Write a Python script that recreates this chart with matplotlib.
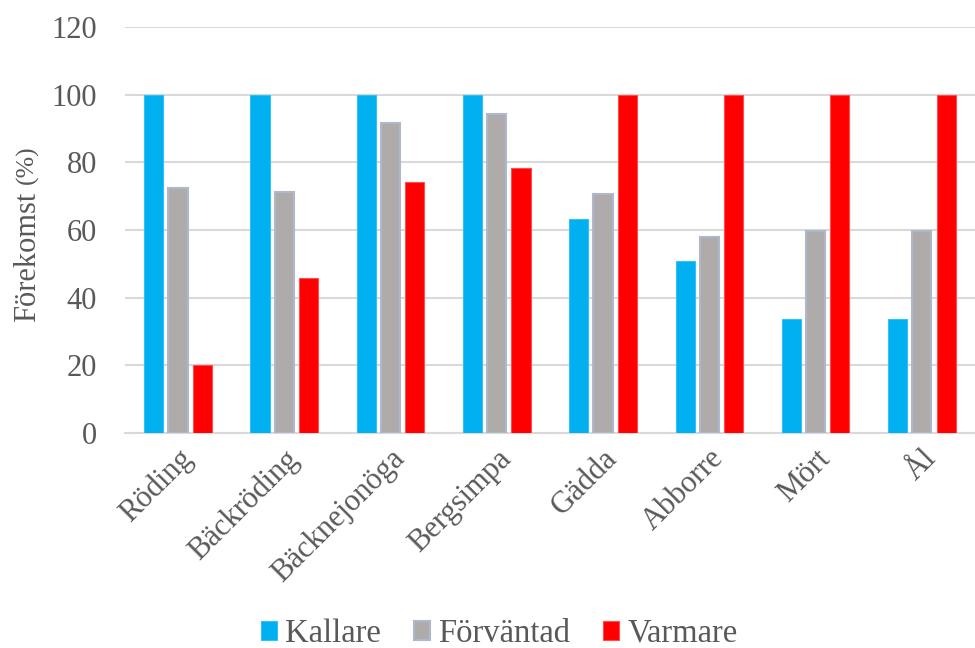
import matplotlib
matplotlib.use("Agg")
import matplotlib.pyplot as plt
import numpy as np

plt.rcParams['font.family'] = ['Liberation Serif', 'DejaVu Serif']

arter = ['Röding', 'Bäckröding', 'Bäcknejonöga', 'Bergsimpa',
         'Gädda', 'Abborre', 'Mört', 'Ål']
kallare = [100, 100, 100, 100, 63.3, 50.9, 33.8, 33.8]
forvantad = [72.3, 71.2, 91.7, 94.3, 70.7, 58.0, 59.8, 59.8]
varmare = [20.0, 45.9, 74.2, 78.3, 100, 100, 100, 100]

textfarg = '#595959'
gridfarg = '#D9D9D9'

fig = plt.figure(figsize=(9.75, 6.48), dpi=100)
ax = fig.add_axes([0.128, 0.332, 0.872, 0.626])

x = np.arange(len(arter))
w = 0.18
steg = 0.228
ax.bar(x - steg, kallare, w, color='#00B0F0', edgecolor='#33C0F3', linewidth=0.8, label='Kallare', zorder=3)
ax.bar(x, forvantad, w, color='#AFABAB', edgecolor='#ADB9CA', linewidth=1.5, label='Förväntad', zorder=3)
ax.bar(x + steg, varmare, w, color='#FF0000', edgecolor='#FF4D4D', linewidth=0.8, label='Varmare', zorder=3)

ax.set_ylim(0, 120)
ax.set_xlim(-0.5, len(arter) - 0.5)
ax.set_yticks(range(0, 121, 20))
ax.yaxis.grid(True, color=gridfarg, linewidth=1.5, zorder=0)
ax.set_axisbelow(True)
for s in ['top', 'right', 'left']:
    ax.spines[s].set_visible(False)
ax.spines['bottom'].set_color(gridfarg)
ax.spines['bottom'].set_linewidth(1.5)
ax.tick_params(axis='both', length=0, labelsize=22, colors=textfarg)
ax.tick_params(axis='y', pad=20)
ax.set_xticks(x)
ax.set_xticklabels(arter, rotation=45, ha='right', rotation_mode='anchor')
ax.tick_params(axis='x', pad=8)

# y-axeltitel, "(%)" i mindre storlek direkt efter
t1 = fig.text(0.028, 0.503, 'Förekomst', rotation=90, rotation_mode='anchor',
              ha='left', va='center', fontsize=22, color=textfarg)
ax.annotate('(%)', xy=(0.5, 1.0), xycoords=t1, xytext=(0, 5.5),
            textcoords='offset points', rotation=90, ha='center', va='bottom',
            fontsize=18.5, color=textfarg, annotation_clip=False)

fig.legend(loc='center', bbox_to_anchor=(0.512, 0.022), ncol=3, frameon=False,
           fontsize=23.5, labelcolor=textfarg, handlelength=0.5, handleheight=0.5,
           handletextpad=0.25, columnspacing=1.0)

fig.savefig('out.png', dpi=100)
